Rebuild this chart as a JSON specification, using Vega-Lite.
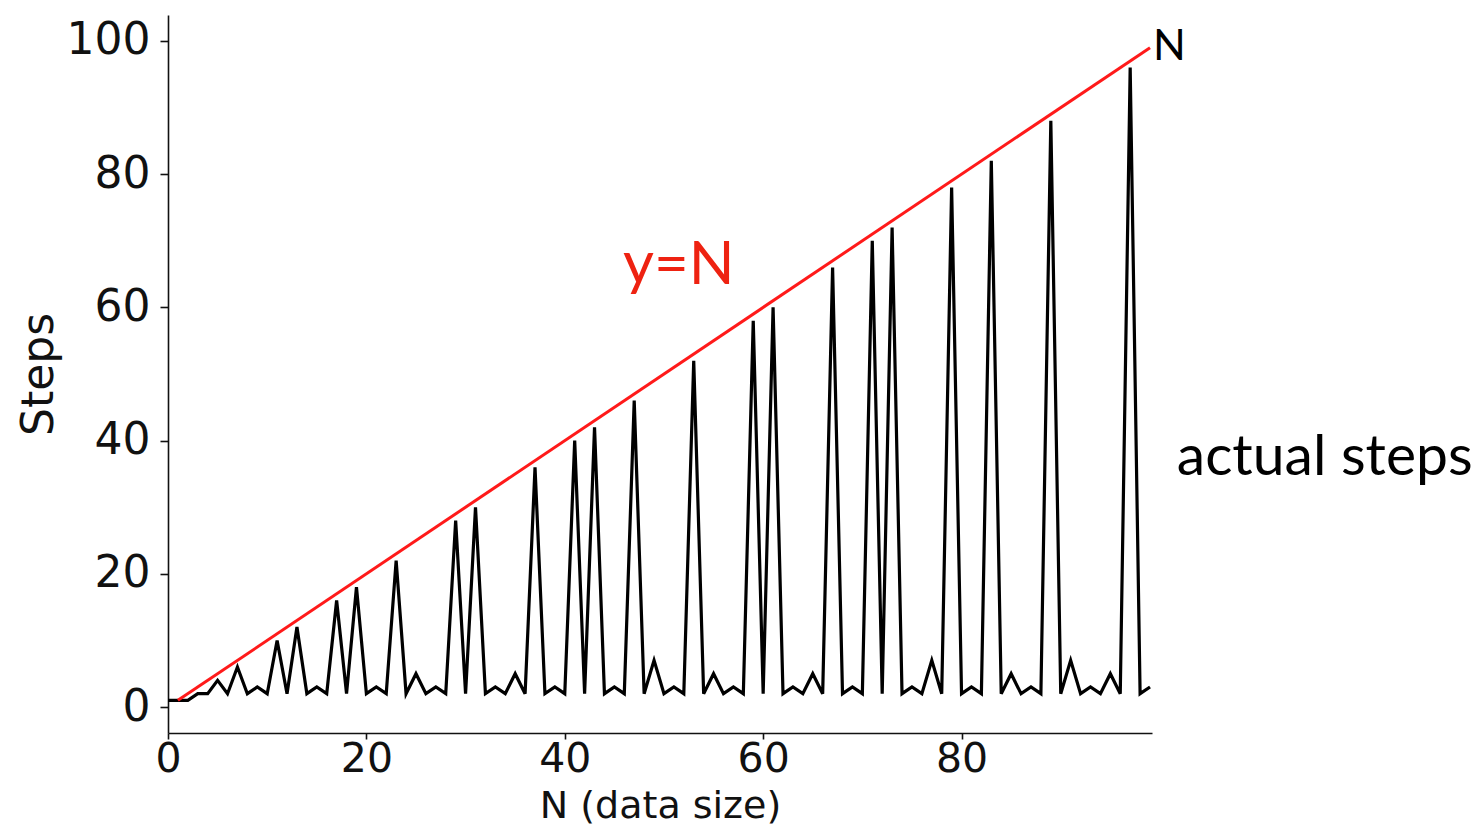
{
  "$schema": "https://vega.github.io/schema/vega-lite/v6.json",
  "width": 984,
  "height": 718,
  "autosize": {"type": "none"},
  "padding": {"left": 168, "top": 15, "right": 330, "bottom": 103},
  "background": "white",
  "config": {
    "view": {"stroke": null},
    "axis": {
      "grid": false,
      "domainColor": "#111",
      "domainWidth": 1.6,
      "tickColor": "#111",
      "tickWidth": 1.6,
      "tickSize": 8,
      "labelFont": "DejaVu Sans",
      "labelFontSize": 44,
      "labelColor": "#111",
      "labelFlush": false,
      "titleFont": "DejaVu Sans",
      "titleFontSize": 44,
      "titleFontWeight": "normal",
      "titleColor": "#111"
    }
  },
  "datasets": {
    "steps": [
      {"N": 0, "steps": 1}, {"N": 1, "steps": 1}, {"N": 2, "steps": 1}, {"N": 3, "steps": 2}, {"N": 4, "steps": 2},
      {"N": 5, "steps": 4}, {"N": 6, "steps": 2}, {"N": 7, "steps": 6}, {"N": 8, "steps": 2}, {"N": 9, "steps": 3},
      {"N": 10, "steps": 2}, {"N": 11, "steps": 10}, {"N": 12, "steps": 2}, {"N": 13, "steps": 12}, {"N": 14, "steps": 2},
      {"N": 15, "steps": 3}, {"N": 16, "steps": 2}, {"N": 17, "steps": 16}, {"N": 18, "steps": 2}, {"N": 19, "steps": 18},
      {"N": 20, "steps": 2}, {"N": 21, "steps": 3}, {"N": 22, "steps": 2}, {"N": 23, "steps": 22}, {"N": 24, "steps": 2},
      {"N": 25, "steps": 5}, {"N": 26, "steps": 2}, {"N": 27, "steps": 3}, {"N": 28, "steps": 2}, {"N": 29, "steps": 28},
      {"N": 30, "steps": 2}, {"N": 31, "steps": 30}, {"N": 32, "steps": 2}, {"N": 33, "steps": 3}, {"N": 34, "steps": 2},
      {"N": 35, "steps": 5}, {"N": 36, "steps": 2}, {"N": 37, "steps": 36}, {"N": 38, "steps": 2}, {"N": 39, "steps": 3},
      {"N": 40, "steps": 2}, {"N": 41, "steps": 40}, {"N": 42, "steps": 2}, {"N": 43, "steps": 42}, {"N": 44, "steps": 2},
      {"N": 45, "steps": 3}, {"N": 46, "steps": 2}, {"N": 47, "steps": 46}, {"N": 48, "steps": 2}, {"N": 49, "steps": 7},
      {"N": 50, "steps": 2}, {"N": 51, "steps": 3}, {"N": 52, "steps": 2}, {"N": 53, "steps": 52}, {"N": 54, "steps": 2},
      {"N": 55, "steps": 5}, {"N": 56, "steps": 2}, {"N": 57, "steps": 3}, {"N": 58, "steps": 2}, {"N": 59, "steps": 58},
      {"N": 60, "steps": 2}, {"N": 61, "steps": 60}, {"N": 62, "steps": 2}, {"N": 63, "steps": 3}, {"N": 64, "steps": 2},
      {"N": 65, "steps": 5}, {"N": 66, "steps": 2}, {"N": 67, "steps": 66}, {"N": 68, "steps": 2}, {"N": 69, "steps": 3},
      {"N": 70, "steps": 2}, {"N": 71, "steps": 70}, {"N": 72, "steps": 2}, {"N": 73, "steps": 72}, {"N": 74, "steps": 2},
      {"N": 75, "steps": 3}, {"N": 76, "steps": 2}, {"N": 77, "steps": 7}, {"N": 78, "steps": 2}, {"N": 79, "steps": 78},
      {"N": 80, "steps": 2}, {"N": 81, "steps": 3}, {"N": 82, "steps": 2}, {"N": 83, "steps": 82}, {"N": 84, "steps": 2},
      {"N": 85, "steps": 5}, {"N": 86, "steps": 2}, {"N": 87, "steps": 3}, {"N": 88, "steps": 2}, {"N": 89, "steps": 88},
      {"N": 90, "steps": 2}, {"N": 91, "steps": 7}, {"N": 92, "steps": 2}, {"N": 93, "steps": 3}, {"N": 94, "steps": 2},
      {"N": 95, "steps": 5}, {"N": 96, "steps": 2}, {"N": 97, "steps": 96}, {"N": 98, "steps": 2}, {"N": 99, "steps": 3}
    ],
    "ref": [{"N": 1, "steps": 1}, {"N": 99, "steps": 99}],
    "redlabel": [{"N": 51.5, "steps": 63.5, "label": "y=N"}],
    "nlabel": [{"N": 99.3, "steps": 97.1, "label": "N"}],
    "actlabel": [{"N": 101.7, "steps": 34.8, "label": "actual steps"}]
  },
  "encoding": {
    "x": {
      "field": "N", "type": "quantitative",
      "scale": {"domain": [0, 99.2], "nice": false, "zero": false},
      "axis": {"values": [0, 20, 40, 60, 80], "title": "N (data size)", "tickSize": 6, "labelFontSize": 41, "labelPadding": 0, "titlePadding": 8, "titleFontSize": 38}
    },
    "y": {
      "field": "steps", "type": "quantitative",
      "scale": {"domain": [-3.9, 103.9], "nice": false, "zero": false},
      "axis": {"values": [0, 20, 40, 60, 80, 100], "title": "Steps", "labelPadding": 10, "titlePadding": 5}
    }
  },
  "layer": [
    {"data": {"name": "steps"}, "mark": {"type": "line", "color": "black", "strokeWidth": 3.2, "strokeJoin": "miter"}},
    {"data": {"name": "ref"}, "mark": {"type": "line", "color": "#ff1a1a", "strokeWidth": 3}},
    {"data": {"name": "redlabel"}, "mark": {"type": "text", "font": "Lato", "fontSize": 60, "color": "#ee2211", "align": "center", "baseline": "alphabetic"}, "encoding": {"text": {"field": "label"}}},
    {"data": {"name": "nlabel"}, "mark": {"type": "text", "font": "Lato", "fontSize": 43, "color": "black", "align": "left", "baseline": "alphabetic"}, "encoding": {"text": {"field": "label"}}},
    {"data": {"name": "actlabel"}, "mark": {"type": "text", "font": "Lato", "fontSize": 57, "color": "black", "align": "left", "baseline": "alphabetic"}, "encoding": {"text": {"field": "label"}}}
  ]
}
